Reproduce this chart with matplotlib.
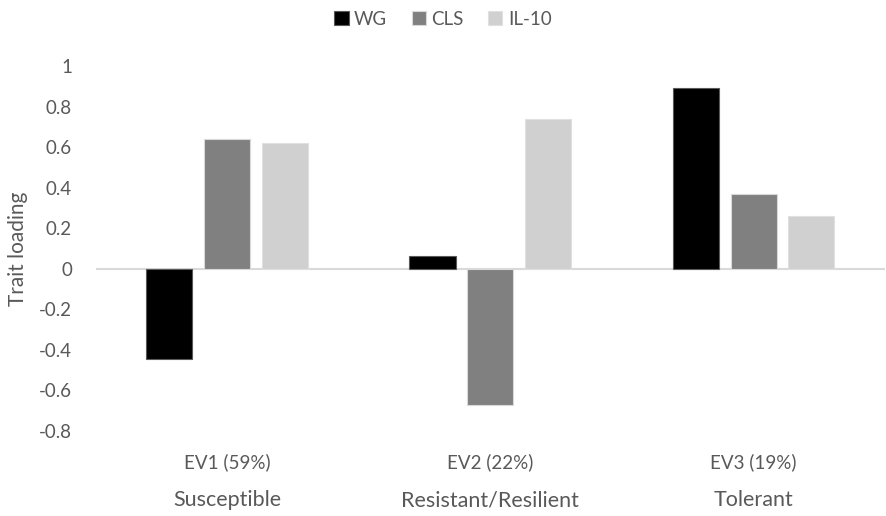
import numpy as np
import matplotlib.pyplot as plt

plt.rcParams['font.family'] = ['Lato', 'DejaVu Sans']

# datos
ev_labels = ['EV1 (59%)', 'EV2 (22%)', 'EV3 (19%)']
groups = ['Susceptible', 'Resistant/Resilient', 'Tolerant']
series = ['WG', 'CLS', 'IL-10']
wg = [-0.445, 0.063, 0.893]
cls = [0.642, -0.67, 0.37]
il10 = [0.622, 0.74, 0.26]
colors = ['#000000', '#808080', '#d0d0d0']
edges = ['#595959', '#d9d9d9', '#e0e0e0']

txt = '#595959'

fig = plt.figure(figsize=(8.86, 5.16), dpi=100)
ax = fig.add_axes([0.108, 0.165, 0.891, 0.707])

x = np.arange(len(ev_labels))
pitch = 0.22
w = 0.175
for i, (vals, c, ec, name) in enumerate(zip([wg, cls, il10], colors, edges, series)):
    ax.bar(x + (i - 1) * pitch, vals, w, color=c, edgecolor=ec, linewidth=0.8, label=name, zorder=3)

ax.axhline(0, color='#d9d9d9', linewidth=1.5, zorder=2)
ax.set_xlim(-0.5, 2.5)
ax.set_ylim(-0.8, 1.0)
ax.set_yticks(np.arange(-0.8, 1.01, 0.2))
ax.set_yticklabels(['-0.8', '-0.6', '-0.4', '-0.2', '0', '0.2', '0.4', '0.6', '0.8', '1'])
ax.tick_params(axis='y', length=0, labelsize=13.5, labelcolor=txt, pad=17)
ax.set_xticks([])
for s in ax.spines.values():
    s.set_visible(False)
ax.set_ylabel('Trait loading', fontsize=15, color=txt)
ax.yaxis.set_label_coords(-0.086, 0.5)

for xi, ev, g in zip(x, ev_labels, groups):
    ax.annotate(ev, (xi, 0), xycoords=('data', 'axes fraction'), xytext=(0, -22.5),
                textcoords='offset points', ha='center', va='center', fontsize=13.5, color=txt)
    ax.annotate(g, (xi, 0), xycoords=('data', 'axes fraction'), xytext=(0, -50),
                textcoords='offset points', ha='center', va='center', fontsize=15.5, color=txt)

leg = fig.legend(loc='upper center', bbox_to_anchor=(0.5, 1.012), ncol=3, frameon=False,
                 fontsize=13.5, handlelength=0.75, handleheight=0.75, handletextpad=0.3,
                 columnspacing=1.3)
for t in leg.get_texts():
    t.set_color(txt)

fig.savefig('out.png', dpi=100)
